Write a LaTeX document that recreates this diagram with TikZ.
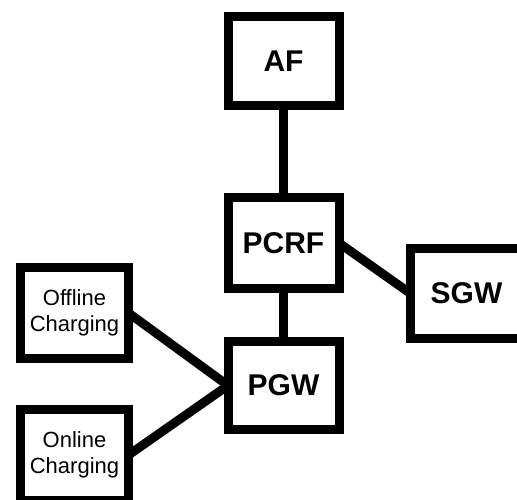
\documentclass[tikz,border=0pt]{standalone}
\usepackage{fontspec}
\setmainfont{Liberation Sans}
\usetikzlibrary{backgrounds}
\begin{document}
\begin{tikzpicture}[x=1pt,y=-1pt,
  box/.style={draw=black,fill=white,line width=9pt,inner sep=0pt,outer sep=0pt},
  bigbox/.style={box,font=\fontsize{30}{32}\selectfont\bfseries},
  chbox/.style={box,align=center,font=\fontsize{22}{26}\selectfont},
  link/.style={draw=black,line width=9pt,shorten <=-6pt,shorten >=-6pt}]
\useasboundingbox (0,0) rectangle (517,499);
\node[bigbox,minimum width=111pt,minimum height=89pt] (af) at (283.5,61) {AF};
\node[bigbox,minimum width=111pt,minimum height=91pt] (pcrf) at (283.5,243) {PCRF};
\node[bigbox,minimum width=111pt,minimum height=88pt] (pgw) at (283.5,385.5) {PGW};
\node[bigbox,minimum width=112pt,minimum height=90pt] (sgw) at (466.5,293.5) {SGW};
\node[chbox,minimum width=108pt,minimum height=91pt] (off) at (74.5,313) {Offline\\Charging};
\node[chbox,minimum width=108pt,minimum height=91pt] (on) at (74.5,455) {Online\\Charging};
\begin{scope}[on background layer]
  \fill[white] (0,0) rectangle (517,499);
  \draw[link] (af.south) -- (pcrf.north);
  \draw[link] (pcrf.south) -- (pgw.north);
  \draw[link] (pcrf.east) -- (sgw.west);
  \draw[link] (off.east) -- (pgw.west);
  \draw[link] (on.east) -- (pgw.west);
\end{scope}
\end{tikzpicture}
\end{document}
